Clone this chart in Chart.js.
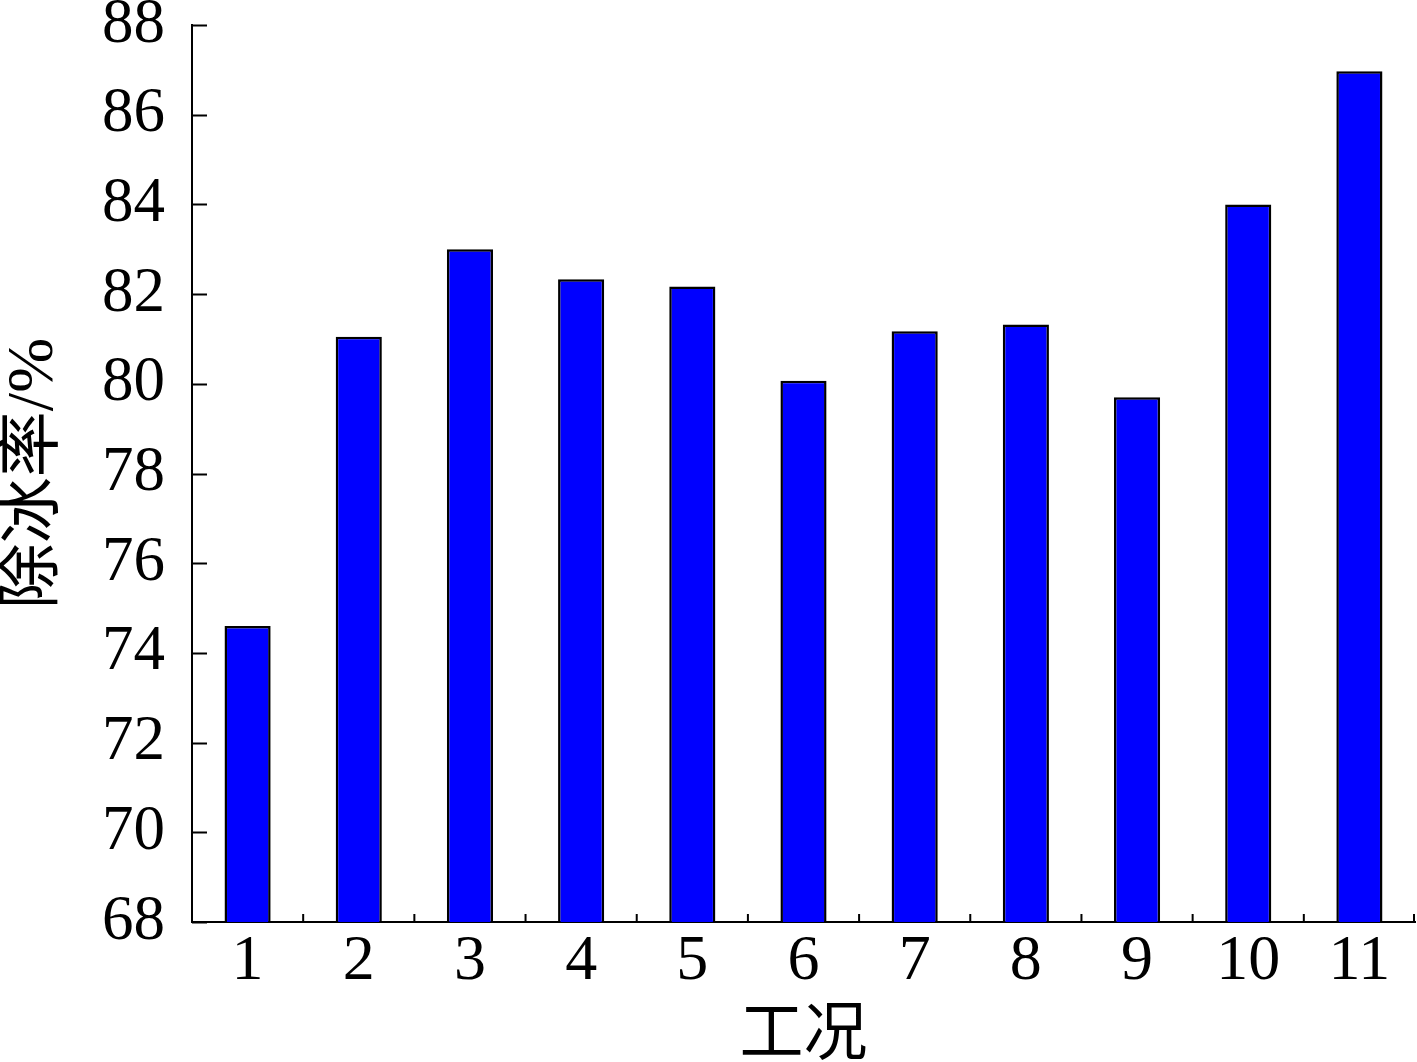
<!DOCTYPE html>
<html>
<head>
<meta charset="utf-8">
<script src="https://cdn.jsdelivr.net/npm/chart.js@4"></script>
<style>
  html, body { margin: 0; padding: 0; background: #fff; }
  #wrap { width: 1417px; height: 1062px; }
</style>
</head>
<body>
<div id="wrap"><canvas id="chartCanvas" width="1417" height="1062"></canvas></div>
<script>
// categories (工况) and de-icing rate values
const cases = ['1','2','3','4','5','6','7','8','9','10','11'];
const rates = [74.6, 81.05, 83.0, 82.33, 82.17, 80.07, 81.17, 81.32, 79.7, 84.0, 86.97];
const yMin = 68, yMax = 88, yStep = 2;

const SERIF = '"Liberation Serif", "Times New Roman", serif';
const CJK = '"Liberation Serif", "Noto Sans CJK SC", serif';

// inward tick marks: y ticks point right, x ticks sit between bars pointing up
const inwardTicks = {
  id: 'inwardTicks',
  afterDraw(chart){
    const ctx = chart.ctx;
    const x = chart.scales.x, y = chart.scales.y;
    ctx.save();
    ctx.strokeStyle = '#000';
    ctx.lineWidth = 2;
    ctx.beginPath();
    y.ticks.forEach(t=>{
      const py = Math.round(y.getPixelForValue(t.value)) + 0.5;
      ctx.moveTo(x.left, py);
      ctx.lineTo(x.left + 15, py);
    });
    for(let i=1;i<=cases.length;i++){
      const px = i===cases.length ? x.right - 1
        : (x.getPixelForValue(i-1) + x.getPixelForValue(i)) / 2;
      ctx.moveTo(px, y.bottom);
      ctx.lineTo(px, y.bottom - 8);
    }
    ctx.stroke();
    ctx.restore();
  }
};

new Chart(document.getElementById('chartCanvas').getContext('2d'), {
  type: 'bar',
  data: {
    labels: cases,
    datasets: [{
      data: rates,
      backgroundColor: '#0000ff',
      borderColor: '#000',
      borderWidth: 2.5,
      categoryPercentage: 1,
      barPercentage: 0.415
    }]
  },
  options: {
    responsive: false,
    animation: false,
    devicePixelRatio: 1,
    layout: { padding: { top: 25, right: 2, left: 0, bottom: 0 } },
    plugins: { legend: { display: false }, tooltip: { enabled: false } },
    scales: {
      x: {
        grid: { display: false, drawTicks: false },
        border: { display: true, color: '#000', width: 2 },
        ticks: { color: '#000', font: { family: SERIF, size: 64 }, padding: 2, maxRotation: 0 },
        title: { display: true, text: '工况', color: '#000',
                 font: { family: CJK, size: 64 }, padding: { top: 0, bottom: -14 } },
        afterFit(s){ s.height = 140; s.paddingLeft = 0; s.paddingRight = 0; }
      },
      y: {
        min: yMin, max: yMax,
        grid: { display: false, drawTicks: false },
        border: { display: true, color: '#000', width: 2 },
        ticks: { stepSize: yStep, color: '#000', font: { family: SERIF, size: 63 }, padding: 27 },
        title: { display: true, text: '除冰率/%', color: '#000',
                 font: { family: CJK, size: 66 }, padding: { top: -5, bottom: 0 } },
        afterFit(s){ s.width = 192; s.paddingTop = 0; s.paddingBottom = 0; }
      }
    }
  },
  plugins: [inwardTicks]
});
</script>
</body>
</html>
